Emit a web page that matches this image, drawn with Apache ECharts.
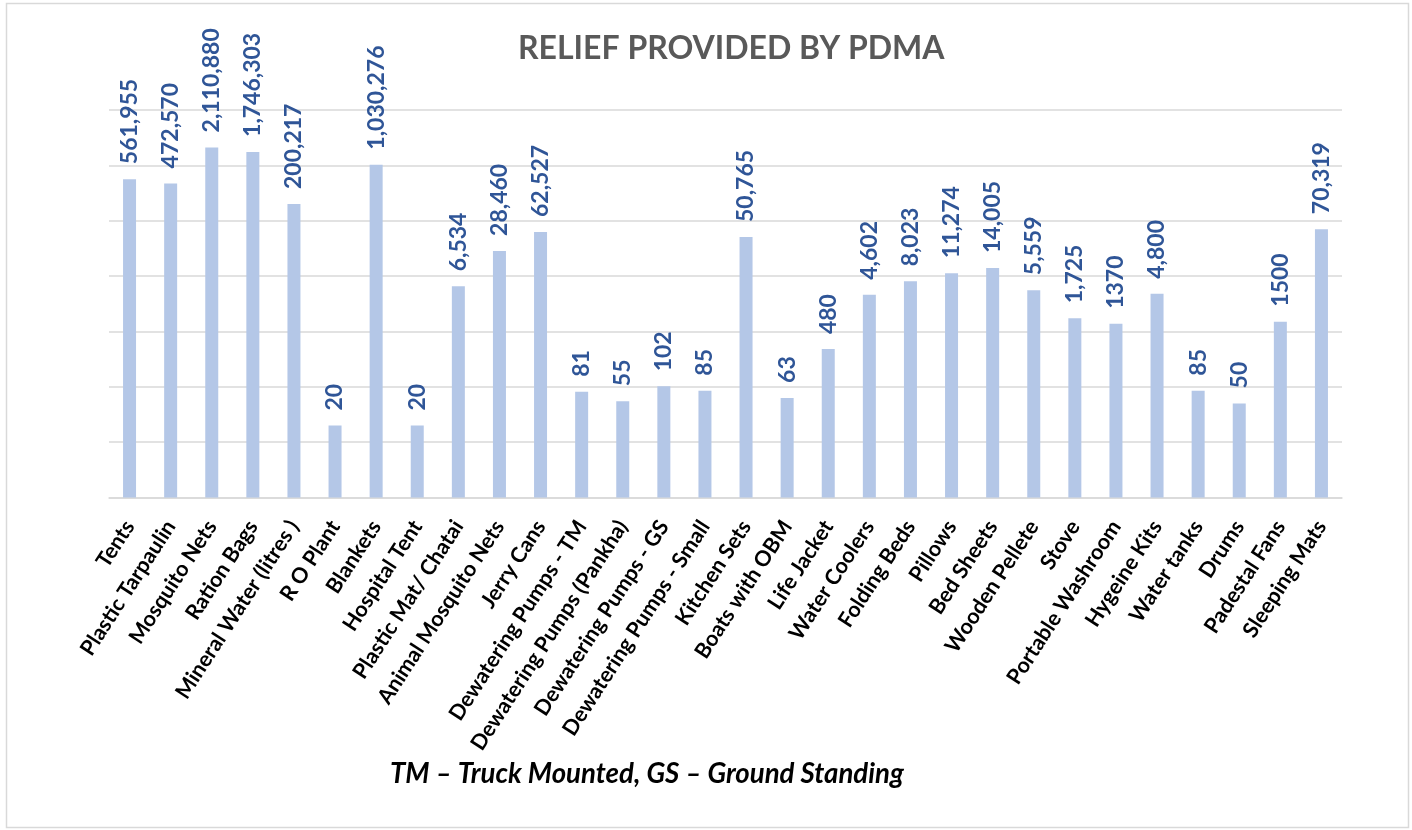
<!DOCTYPE html>
<html><head><meta charset="utf-8">
<script src="https://cdn.jsdelivr.net/npm/echarts@6/dist/echarts.min.js"></script>
<style>html,body{margin:0;padding:0;background:#fff}#c{width:1412px;height:830px}</style>
</head><body><div id="c"></div>
<script>
const categories = ["Tents","Plastic Tarpaulin","Mosquito Nets","Ration Bags","Mineral Water (litres )","R O Plant","Blankets","Hospital Tent","Plastic Mat/ Chatai","Animal Mosquito Nets","Jerry Cans","Dewatering Pumps - TM","Dewatering Pumps (Pankha)","Dewatering Pumps - GS","Dewatering Pumps - Small","Kitchen Sets","Boats with OBM","Life Jacket","Water Coolers","Folding Beds","Pillows","Bed Sheets","Wooden Pellete","Stove","Portable Washroom","Hygeine Kits","Water tanks","Drums","Padestal Fans","Sleeping Mats"];
const values = [561955,472570,2110880,1746303,200217,20,1030276,20,6534,28460,62527,81,55,102,85,50765,63,480,4602,8023,11274,14005,5559,1725,1370,4800,85,50,1500,70319];
const valueLabels = ["561,955","472,570","2,110,880","1,746,303","200,217","20","1,030,276","20","6,534","28,460","62,527","81","55","102","85","50,765","63","480","4,602","8,023","11,274","14,005","5,559","1,725","1370","4,800","85","50","1500","70,319"];
const titleText = "RELIEF PROVIDED BY PDMA";
const noteText = "TM \u2013 Truck Mounted, GS \u2013 Ground Standing";

const chart = echarts.init(document.getElementById('c'), null, {renderer:'canvas'});
const FONT = 'Lato';
chart.setOption({
  animation:false,
  backgroundColor:'#fff',
  title:{text:titleText,left:513,top:28,textStyle:{fontFamily:FONT,fontWeight:'bold',fontSize:32,color:'#595959'}},
  graphic:[
    {type:'rect',shape:{x:6.5,y:3.5,width:1402,height:824},style:{fill:'none',stroke:'#D9D9D9',lineWidth:1.5},silent:true},
    {type:'text',left:390,top:760,style:{text:noteText,font:'italic bold 27.6px '+FONT,fill:'#000'}}
  ],
  grid:{left:109,right:70,top:110,bottom:332.5,containLabel:false},
  xAxis:{type:'category',data:categories,
    axisLine:{lineStyle:{color:'#D9D9D9',width:1.5}},axisTick:{show:false},
    axisLabel:{interval:0,rotate:57,margin:25,align:'right',verticalAlign:'middle',lineHeight:22,
      fontFamily:FONT,fontWeight:'bold',fontSize:21.5,color:'#000'}},
  yAxis:{type:'log',logBase:10,min:1,max:10000000,
    axisLine:{show:false},axisTick:{show:false},axisLabel:{show:false},
    splitLine:{lineStyle:{color:'#D9D9D9',width:1.5}}},
  series:[{type:'bar',data:values,barWidth:13,
    itemStyle:{color:'#B4C7E7'},
    label:{show:true,position:'top',distance:15,rotate:90,align:'left',verticalAlign:'middle',
      fontFamily:FONT,fontWeight:'bold',fontSize:23,color:'#2F5597',
      formatter:p=>valueLabels[p.dataIndex]}}]
});
</script></body></html>
